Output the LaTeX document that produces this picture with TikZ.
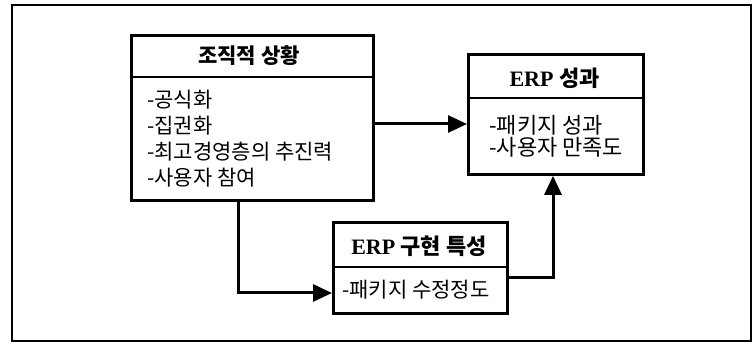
\documentclass[tikz,border=0pt]{standalone}
\usepackage{fontspec}
\setmainfont{Liberation Serif}
\newfontfamily\kr{Noto Sans CJK KR}
\usetikzlibrary{arrows.meta}
\tikzset{
  boxframe/.style={draw, line width=2.8pt, inner sep=0pt, anchor=north west},
  sepline/.style={line width=2.2pt},
  conn/.style={line width=3pt, -{Triangle[length=19pt,width=17pt]}},
  head/.style={font=\bfseries\fontsize{22}{24}\selectfont, anchor=center},
  body/.style={font=\kr\fontsize{21}{26}\selectfont, anchor=west, align=left, inner sep=0pt},
}
\begin{document}
\begin{tikzpicture}[x=1pt,y=-1pt]
\useasboundingbox (0,0) rectangle (753,344);
\draw[line width=1.6pt] (12,5) rectangle (751,341);
% box 1
\node[boxframe, minimum width=242pt, minimum height=165pt] (org) at (130,34) {};
\draw[sepline] (130,77) -- (372,77);
\node[head, font=\kr\bfseries\fontsize{21}{24}\selectfont] (orgh) at (249,56) {조직적 상황};
\node[body] (orgb) at (147,139) {-공식화\\-집권화\\-최고경영층의 추진력\\-사용자 참여};
% box ERP 성과
\node[boxframe, minimum width=175pt, minimum height=120pt] (perf) at (467,53) {};
\draw[sepline] (467,98) -- (642,98);
\node[head] (perfh) at (554.5,78) {ERP {\kr\bfseries 성과}};
\node[body, font=\kr\fontsize{22}{22}\selectfont] (perfb) at (489,136) {-패키지 성과\\-사용자 만족도};
% box ERP 구현 특성
\node[boxframe, minimum width=174pt, minimum height=91pt] (impl) at (332,221) {};
\draw[sepline] (332,267) -- (506,267);
\node[head] (implh) at (419,246) {ERP {\kr\bfseries 구현 특성}};
\node[body, font=\kr\fontsize{21}{22}\selectfont] (implb) at (342,290) {-패키지 수정정도};
% connectors
\coordinate (c1) at (238,293);
\coordinate (c2) at (553,278);
\draw[conn] (org.east |- 0,124) -- (perf.west |- 0,124);
\draw[conn] (org.south -| c1) -- (c1) -- (impl.west |- c1);
\draw[conn] (impl.east |- c2) -- (c2) -- (perf.south -| c2);
\end{tikzpicture}
\end{document}
